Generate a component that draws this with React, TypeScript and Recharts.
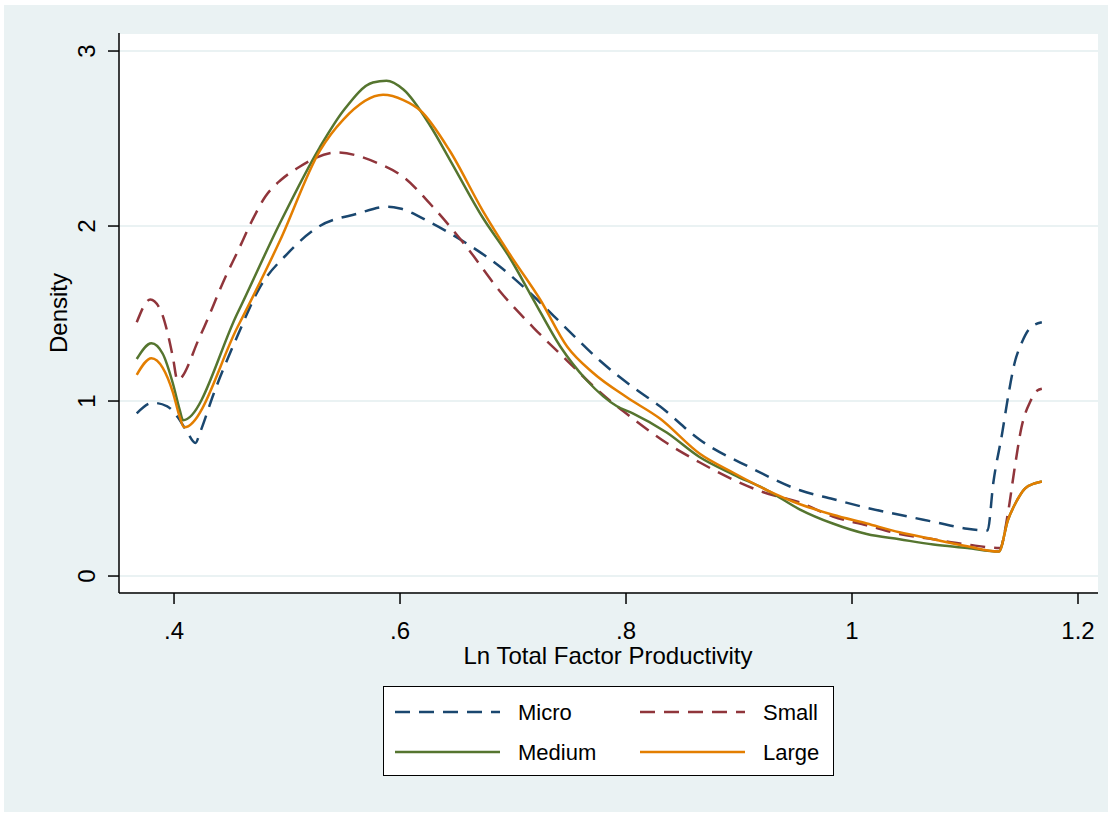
import React from "react";
import { LineChart, Line, XAxis, YAxis, CartesianGrid } from "recharts";

// values (x = ln TFP, y = density)
const microX = [0.367, 0.381, 0.394, 0.403, 0.411, 0.419, 0.423, 0.435, 0.456, 0.476, 0.5, 0.529, 0.562, 0.588, 0.6, 0.627, 0.659, 0.688, 0.718, 0.748, 0.777, 0.806, 0.83, 0.865, 0.91, 0.954, 0.983, 1.013, 1.042, 1.072, 1.102, 1.12, 1.125, 1.133, 1.138, 1.144, 1.15, 1.158, 1.168];
const microY = [0.93, 0.99, 0.97, 0.91, 0.83, 0.76, 0.82, 1.04, 1.37, 1.65, 1.84, 2.0, 2.07, 2.11, 2.1, 2.02, 1.9, 1.77, 1.6, 1.41, 1.23, 1.08, 0.97, 0.78, 0.62, 0.49, 0.44, 0.39, 0.35, 0.31, 0.27, 0.26, 0.53, 0.82, 1.02, 1.22, 1.33, 1.42, 1.45];

const smallX = [0.367, 0.379, 0.388, 0.395, 0.399, 0.403, 0.423, 0.447, 0.456, 0.469, 0.481, 0.494, 0.509, 0.544, 0.58, 0.603, 0.629, 0.659, 0.688, 0.718, 0.748, 0.777, 0.806, 0.836, 0.865, 0.895, 0.921, 0.954, 0.983, 1.013, 1.042, 1.072, 1.102, 1.131, 1.138, 1.144, 1.15, 1.158, 1.164, 1.168];
const smallY = [1.45, 1.58, 1.52, 1.37, 1.25, 1.12, 1.37, 1.73, 1.85, 2.03, 2.17, 2.26, 2.33, 2.42, 2.36, 2.28, 2.11, 1.88, 1.63, 1.42, 1.23, 1.05, 0.9, 0.76, 0.65, 0.55, 0.48, 0.42, 0.34, 0.29, 0.24, 0.21, 0.18, 0.16, 0.36, 0.62, 0.85, 1.0, 1.06, 1.07];

const mediumX = [0.367, 0.38, 0.39, 0.399, 0.405, 0.408, 0.456, 0.494, 0.529, 0.55, 0.576, 0.588, 0.603, 0.627, 0.644, 0.673, 0.697, 0.718, 0.742, 0.765, 0.792, 0.806, 0.836, 0.865, 0.895, 0.925, 0.954, 0.983, 1.013, 1.042, 1.072, 1.102, 1.13, 1.138, 1.145, 1.153, 1.162, 1.168];
const mediumY = [1.24, 1.33, 1.27, 1.1, 0.95, 0.89, 1.5, 2.02, 2.45, 2.66, 2.82, 2.83, 2.78, 2.57, 2.38, 2.05, 1.82, 1.58, 1.31, 1.12, 0.97, 0.93, 0.82, 0.68, 0.58, 0.49, 0.38, 0.3, 0.24, 0.21, 0.18, 0.16, 0.14, 0.32, 0.42, 0.5, 0.53, 0.54];

const largeX = [0.367, 0.38, 0.39, 0.399, 0.405, 0.409, 0.456, 0.494, 0.529, 0.55, 0.585, 0.603, 0.618, 0.644, 0.673, 0.697, 0.724, 0.748, 0.771, 0.801, 0.83, 0.865, 0.895, 0.925, 0.954, 0.983, 1.013, 1.042, 1.072, 1.102, 1.13, 1.138, 1.145, 1.153, 1.162, 1.168];
const largeY = [1.15, 1.245, 1.19, 1.05, 0.91, 0.85, 1.42, 1.92, 2.43, 2.61, 2.75, 2.72, 2.66, 2.43, 2.09, 1.84, 1.58, 1.31, 1.16, 1.02, 0.9, 0.7, 0.59, 0.49, 0.41, 0.35, 0.3, 0.25, 0.21, 0.17, 0.14, 0.32, 0.42, 0.5, 0.53, 0.54];

const xTicks = [0.4, 0.6, 0.8, 1, 1.2];
const xTickLabels = [".4", ".6", ".8", "1", "1.2"];
const yTicks = [0, 1, 2, 3];

const FONT = "'Liberation Sans', Arial, Helvetica, sans-serif";
const BG = "#eaf2f3";

const toPoints = (xs: number[], ys: number[]) =>
  xs.map((x, i) => ({ x, y: ys[i] }));

const series = [
  { name: "Micro", data: toPoints(microX, microY), color: "#1a476f", dash: "15 9" },
  { name: "Small", data: toPoints(smallX, smallY), color: "#90353b", dash: "15 9" },
  { name: "Medium", data: toPoints(mediumX, mediumY), color: "#55752f", dash: undefined },
  { name: "Large", data: toPoints(largeX, largeY), color: "#e37e00", dash: undefined },
];

const XTick = ({ x, y, payload }: any) => {
  const idx = xTicks.indexOf(payload.value);
  return (
    <text x={x} y={y + 33} textAnchor="middle" fontSize={24} fontFamily={FONT} fill="#000">
      {idx >= 0 ? xTickLabels[idx] : payload.value}
    </text>
  );
};

const YTick = ({ y, payload }: any) => (
  <text
    x={95}
    y={y}
    transform={`rotate(-90 95 ${y})`}
    textAnchor="middle"
    fontSize={24}
    fontFamily={FONT}
    fill="#000"
  >
    {payload.value}
  </text>
);

const XTitle = () => (
  <text x={608} y={664} textAnchor="middle" fontSize={24} fontFamily={FONT} fill="#000">
    Ln Total Factor Productivity
  </text>
);

const YTitle = () => (
  <text
    x={67}
    y={313}
    transform="rotate(-90 67 313)"
    textAnchor="middle"
    fontSize={24}
    fontFamily={FONT}
    fill="#000"
  >
    Density
  </text>
);

function LegendBox() {
  const rows = [
    [series[0], series[1]],
    [series[2], series[3]],
  ];
  return (
    <div
      style={{
        position: "absolute",
        left: 383,
        top: 686,
        width: 451,
        height: 90,
        boxSizing: "border-box",
        border: "1.5px solid #000",
        background: "#fff",
      }}
    >
      <svg width={448} height={87} style={{ display: "block" }}>
        {rows.map((row, r) =>
          row.map((s, c) => {
            const lx = 11 + c * 245;
            const ly = 25 + r * 40;
            return (
              <g key={s.name}>
                <line
                  x1={lx}
                  x2={lx + 105}
                  y1={ly}
                  y2={ly}
                  stroke={s.color}
                  strokeWidth={2.5}
                  strokeDasharray={s.dash}
                />
                <text x={lx + 123} y={ly + 8} fontSize={22} fontFamily={FONT} fill="#000">
                  {s.name}
                </text>
              </g>
            );
          })
        )}
      </svg>
    </div>
  );
}

export default function App() {
  return (
    <div style={{ position: "absolute", left: 0, top: 0, width: 1112, height: 813, background: "#fff" }}>
      <div style={{ position: "absolute", left: 4, top: 5, width: 1104, height: 807, background: BG }} />
      <div style={{ position: "absolute", left: 0, top: 0 }}>
        <LineChart width={1112} height={813} margin={{ top: 33, right: 14, bottom: 160, left: 49 }}>
          <CartesianGrid vertical={false} stroke={BG} strokeWidth={2} fill="#fff" />
          <XAxis
            type="number"
            dataKey="x"
            domain={[0.3513, 1.2177]}
            ticks={xTicks}
            allowDataOverflow
            height={60}
            tickSize={11}
            tick={<XTick />}
            stroke="#000"
            strokeWidth={1.5}
            label={<XTitle />}
          />
          <YAxis
            type="number"
            dataKey="y"
            domain={[-0.097, 3.103]}
            ticks={yTicks}
            allowDataOverflow
            width={70}
            tickSize={11}
            tick={<YTick />}
            stroke="#000"
            strokeWidth={1.5}
            label={<YTitle />}
          />
          {series.map((s) => (
            <Line
              key={s.name}
              data={s.data}
              dataKey="y"
              name={s.name}
              type="monotone"
              stroke={s.color}
              strokeWidth={2.5}
              strokeDasharray={s.dash}
              dot={false}
              activeDot={false}
              isAnimationActive={false}
            />
          ))}
        </LineChart>
      </div>
      <LegendBox />
    </div>
  );
}
